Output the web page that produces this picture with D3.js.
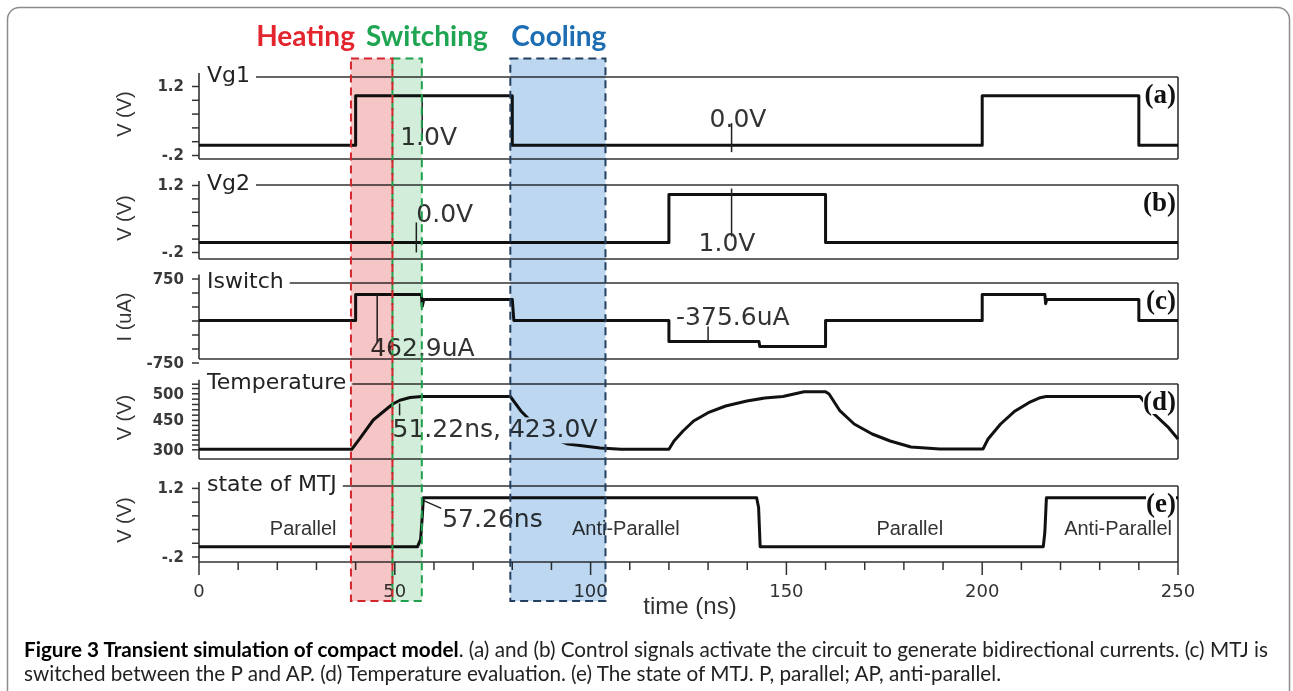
<!DOCTYPE html>
<html><head><meta charset="utf-8">
<script src="https://cdn.jsdelivr.net/npm/d3@7"></script>
<style>
html,body{margin:0;padding:0;background:#fff;}
svg{display:block;}
</style></head><body>
<svg id="chart" width="1293" height="691"></svg>
<script>
// ================= DATA =================
const timeTicks = [0, 50, 100, 150, 200, 250];
const timeMinorTicks = [0,10,20,30,40,50,60,70,80,90,100,110,120,130,140,150,160,170,180,190,200,210,220,230,240,250];

const vTickValues = [-0.2, 1.2];
const vTickLabels = ["-.2", "1.2"];
const vMinorTicks = [-0.2, 0.08, 0.36, 0.64, 0.92, 1.2];
const iTickValues = [-750, 750];
const iTickLabels = ["-750", "750"];
const iMinorTicks = [-750, -500, -250, 0, 250, 500, 750];
const tempTickValues = [300, 450, 500];
const tempTickLabels = ["300", "450", "500"];
const tempMinorTicks = [300, 325, 350, 375, 400, 425, 450, 460, 470, 480, 490, 500, 510, 518];

// Vg1 (V)
const vg1 = [[0,0],[40,0],[40,1],[80,1],[80,0],[200,0],[200,1],[240,1],[240,0],[250,0]];
// Vg2 (V)
const vg2 = [[0,0],[120,0],[120,1],[160,1],[160,0],[250,0]];
// Iswitch (uA)
const iswitch = [[0,0],[40,0],[40,462.9],[56.8,462.9],[57,250],[57.4,375.6],[80,375.6],[80.4,0],
  [120,0],[120,-375.6],[143,-375.6],[143.2,-462.9],[160,-462.9],[160,0],
  [200,0],[200,462.9],[216,462.9],[216.2,300],[216.5,375.6],[240,375.6],[240,0],[250,0]];
// Temperature (K)
const temperature = [[0,300],[39,300],[41.1,356],[44.5,450],[47.9,470.6],[49.5,480],[51.3,487],[53.9,492],[56.9,494],
  [79.5,494],[82.2,466.9],[86,419.3],[90,357.9],[94.2,327],[102.4,306.7],[107.8,300],[120,300],
  [121.3,342.5],[123.6,393.7],[126.3,444.9],[130,463.7],[134.5,476.2],[139.9,485.6],[144.5,491.2],[149.1,494],[154.5,503],[160,503],
  [160.9,498.7],[163.7,466.9],[167.3,429.5],[171.9,378.3],[176.5,342.5],[181.8,311.8],[189.2,301.5],[200.2,301.5],
  [201.5,352.7],[204.7,429.5],[208.4,466.9],[211.9,482.4],[214.8,491.8],[216.3,494],[240.3,494],
  [243.9,461.2],[247.6,410.6],[250,352.7]];
// state of MTJ (V)
const mtjState = [[0,0],[55.8,0],[56.6,0.15],[57.0,0.6],[57.3,1],[142.4,1],[142.9,0.8],[143.3,0],
  [215.6,0],[216.0,0.3],[216.4,1],[250,1]];

const stateLabels = [
  {t:26.6, text:"Parallel"}, {t:109, text:"Anti-Parallel"},
  {t:181.5, text:"Parallel"}, {t:234.7, text:"Anti-Parallel"}];

const phases = [
  {name:"Heating", start:38.8, end:49.4},
  {name:"Switching", start:49.4, end:56.9},
  {name:"Cooling", start:79.5, end:103.8}];

const annotations = [
  {panel:"a", t:57.0, text:"1.0V"},
  {panel:"a", t:136.0, text:"0.0V"},
  {panel:"b", t:55.5, text:"0.0V"},
  {panel:"b", t:136.0, text:"1.0V"},
  {panel:"c", t:45.5, text:"462.9uA"},
  {panel:"c", t:130.0, text:"-375.6uA"},
  {panel:"d", t:51.22, text:"51.22ns, 423.0V"},
  {panel:"e", t:57.26, text:"57.26ns"}];

const captionBold = "Figure 3 Transient simulation of compact model";
const captionLine1 = ". (a) and (b) Control signals activate the circuit to generate bidirectional currents. (c) MTJ is";
const captionLine2 = "switched between the P and AP. (d) Temperature evaluation. (e) The state of MTJ. P, parallel; AP, anti-parallel.";

// ================= LAYOUT =================
const svg = d3.select("#chart");
const SIM_FONT = "'DejaVu Sans', Verdana, sans-serif";
const ARIAL = "'Liberation Sans', Arial, sans-serif";
const X0 = 199, X1 = 1178;
const x = d3.scaleLinear().domain([0, 250]).range([X0, X1]);

svg.append("rect").attr("x", 7.5).attr("y", 7.5).attr("width", 1282).attr("height", 720)
  .attr("rx", 12).attr("fill", "#fff").attr("stroke", "#8c8c8c").attr("stroke-width", 1.5);

const panels = [
  {key:"a", name:"Vg1", title:"V (V)", series:vg1, domain:[-0.2,1.2], range:[155,86], top:77, bottom:159,
   minor:vMinorTicks, tv:vTickValues, tl:vTickLabels},
  {key:"b", name:"Vg2", title:"V (V)", series:vg2, domain:[-0.2,1.2], range:[252,185], top:185, bottom:259,
   minor:vMinorTicks, tv:vTickValues, tl:vTickLabels},
  {key:"c", name:"Iswitch", title:"I (uA)", series:iswitch, domain:[-750,750], range:[362.5,278.5], top:283, bottom:359,
   minor:iMinorTicks, tv:iTickValues, tl:iTickLabels},
  {key:"d", name:"Temperature", title:"V (V)", series:temperature, domain:[300,450,500], range:[449.3,420,393.3], top:384, bottom:459,
   minor:tempMinorTicks, tv:tempTickValues, tl:tempTickLabels},
  {key:"e", name:"state of MTJ", title:"V (V)", series:mtjState, domain:[-0.2,1.2], range:[556.5,487.9], top:486, bottom:562,
   minor:vMinorTicks, tv:vTickValues, tl:vTickLabels}
];
const byKey = {};

function interp(series, t) {
  for (let i = 1; i < series.length; i++) {
    const [t0, v0] = series[i-1], [t1, v1] = series[i];
    if (t >= t0 && t <= t1 && t1 > t0) return v0 + (v1 - v0) * (t - t0) / (t1 - t0);
  }
  return series[series.length-1][1];
}

panels.forEach(p => {
  const y = d3.scaleLinear().domain(p.domain).range(p.range);
  p.y = y; byKey[p.key] = p;
  const g = svg.append("g");
  const lab = g.append("text").attr("x", 207).attr("y", p.top + 5).text(p.name)
    .attr("font-family", SIM_FONT).attr("font-size", 22).attr("fill", "#222");
  const labEnd = 207 + lab.node().getComputedTextLength() + 6;
  const fr = g.append("g").attr("stroke", "#333").attr("stroke-width", 1.6).attr("fill", "none");
  fr.append("line").attr("x1", labEnd).attr("x2", X1).attr("y1", p.top).attr("y2", p.top);
  fr.append("line").attr("x1", X1).attr("x2", X1).attr("y1", p.top).attr("y2", p.bottom);
  fr.append("line").attr("x1", X0).attr("x2", X1).attr("y1", p.bottom).attr("y2", p.bottom);
  fr.append("line").attr("x1", X0).attr("x2", X0)
    .attr("y1", Math.min(p.top, y(p.minor[p.minor.length-1])) - 4).attr("y2", p.bottom);
  const labelMap = new Map(p.tv.map((v, i) => [v, p.tl[i]]));
  const ax = d3.axisLeft(y).tickValues(p.minor).tickSize(7).tickPadding(8)
    .tickFormat(d => labelMap.has(d) ? labelMap.get(d) : "");
  const axG = g.append("g").attr("transform", `translate(${X0},0)`).call(ax);
  axG.select(".domain").remove();
  axG.selectAll("line").attr("stroke", "#333").attr("stroke-width", 1.5);
  axG.selectAll("text").attr("font-family", SIM_FONT).attr("font-weight", "bold")
    .attr("font-size", 15).attr("fill", "#3a3a3a");
  const cy = (p.top + p.bottom) / 2 - 4;
  g.append("text").attr("transform", `translate(131,${cy}) rotate(-90)`).attr("text-anchor", "middle")
    .text(p.title).attr("font-family", ARIAL).attr("font-size", 20).attr("fill", "#333");
  const line = d3.line().x(d => x(d[0])).y(d => y(d[1]));
  g.append("path").datum(p.series).attr("d", line).attr("fill", "none")
    .attr("stroke", "#111").attr("stroke-width", 3).attr("stroke-linejoin", "round");
});

const pe = byKey.e;
stateLabels.forEach(s => {
  svg.append("text").attr("x", x(s.t)).attr("y", pe.y(0.38) + 7).attr("text-anchor", "middle")
    .text(s.text).attr("font-family", ARIAL).attr("font-size", 20).attr("fill", "#333");
});

const annoLayout = [
  {dx:-22, base:49, l1:0, l2:44},
  {dx:-22, base:-18, l1:-22, l2:7},
  {dx:0, base:-20, l1:-20, l2:10},
  {dx:-33, base:56, l1:-6, l2:42},
  {dx:-7, base:61, l1:0, l2:48},
  {dx:-32, base:-17, l1:-15, l2:0},
  {dx:-7, base:37, l1:3, l2:15, bg:true},
  {dx:19, base:27, diag:[18, 8]}
];
annotations.forEach((a, i) => {
  const p = byKey[a.panel], L = annoLayout[i];
  const ax = x(a.t), ay = p.y(interp(p.series, a.t));
  const g = svg.append("g");
  if (L.diag) {
    g.append("line").attr("x1", ax).attr("y1", ay).attr("x2", ax + L.diag[0]).attr("y2", ay + L.diag[1])
      .attr("stroke", "#222").attr("stroke-width", 1.5);
  } else {
    g.append("line").attr("x1", ax).attr("x2", ax).attr("y1", ay + L.l1).attr("y2", ay + L.l2)
      .attr("stroke", "#222").attr("stroke-width", 1.5);
  }
  const t = g.append("text").attr("x", ax + L.dx).attr("y", ay + L.base).text(a.text)
    .attr("font-family", SIM_FONT).attr("font-size", 25).attr("fill", "#333");
  if (L.bg) {
    const bb = t.node().getBBox();
    g.insert("rect", "text").attr("x", bb.x - 2).attr("y", bb.y + 3).attr("width", bb.width + 4)
      .attr("height", bb.height - 3).attr("fill", "#fff");
  }
});

panels.forEach(p => {
  const g = svg.append("g");
  const t = g.append("text").attr("x", X1 - 2).attr("y", p.top + 26).attr("text-anchor", "end")
    .text(`(${p.key})`).attr("font-family", "'Liberation Serif', 'Times New Roman', serif")
    .attr("font-weight", "bold").attr("font-size", 27).attr("fill", "#111");
  const bb = t.node().getBBox();
  g.insert("rect", "text").attr("x", bb.x).attr("y", bb.y + 3).attr("width", bb.width)
    .attr("height", bb.height - 5).attr("fill", "#fff");
});

const xAx = svg.append("g").attr("stroke", "#333").attr("stroke-width", 1.5);
xAx.selectAll("line").data(timeMinorTicks).join("line")
  .attr("x1", d => x(d)).attr("x2", d => x(d)).attr("y1", pe.bottom)
  .attr("y2", d => pe.bottom + (timeTicks.includes(d) ? 13 : 8));
svg.selectAll("text.xt").data(timeTicks).join("text").attr("class", "xt")
  .attr("x", d => x(d)).attr("y", 597).attr("text-anchor", "middle").text(d => d)
  .attr("font-family", SIM_FONT).attr("font-size", 18).attr("fill", "#333");
svg.append("text").attr("x", 690).attr("y", 614).attr("text-anchor", "middle").text("time (ns)")
  .attr("font-family", ARIAL).attr("font-size", 24).attr("fill", "#333");

const fills = ["#f6c6c6", "#d2eedb", "#bcd7ef"];
const strokes = ["#d3262c", "#20a04c", "#243f5f"];
const boxTop = 58.5, boxBottom = 601;
phases.forEach((ph, i) => {
  svg.append("rect").attr("x", x(ph.start)).attr("y", boxTop).attr("width", x(ph.end) - x(ph.start))
    .attr("height", boxBottom - boxTop).attr("fill", fills[i]).style("mix-blend-mode", "multiply");
});
[1, 0, 2].forEach(i => {
  const ph = phases[i];
  svg.append("rect").attr("x", x(ph.start)).attr("y", boxTop).attr("width", x(ph.end) - x(ph.start))
    .attr("height", boxBottom - boxTop).attr("fill", "none").attr("stroke", strokes[i])
    .attr("stroke-width", 2).attr("stroke-dasharray", "8,5");
});
const headColors = ["#e3262e", "#1fa551", "#1d6db2"];
const headAnchor = [
  {x: x(phases[0].start) + 4, anchor: "end"},
  {x: x(phases[0].start) + 15, anchor: "start"},
  {x: x(phases[2].start) + 1, anchor: "start"}];
phases.forEach((ph, i) => {
  svg.append("text").attr("x", headAnchor[i].x).attr("y", 46).attr("text-anchor", headAnchor[i].anchor)
    .text(ph.name).attr("font-family", "Lato, 'Open Sans', sans-serif").attr("font-weight", "bold")
    .attr("font-size", 28).attr("fill", headColors[i]);
});

const cap1 = svg.append("text").attr("x", 24).attr("y", 657).attr("font-family", "Lato, 'Open Sans', sans-serif")
  .attr("font-size", 17).attr("fill", "#222");
cap1.append("tspan").attr("font-weight", "bold").attr("fill", "#000").text(captionBold);
cap1.append("tspan").text(captionLine1);
const w1 = cap1.node().getComputedTextLength();
const fs = 17 * 1245 / w1;
cap1.attr("font-size", fs);
svg.append("text").attr("x", 24).attr("y", 681).attr("font-family", "Lato, 'Open Sans', sans-serif")
  .attr("font-size", fs).attr("fill", "#222").text(captionLine2);
</script>
</body></html>
